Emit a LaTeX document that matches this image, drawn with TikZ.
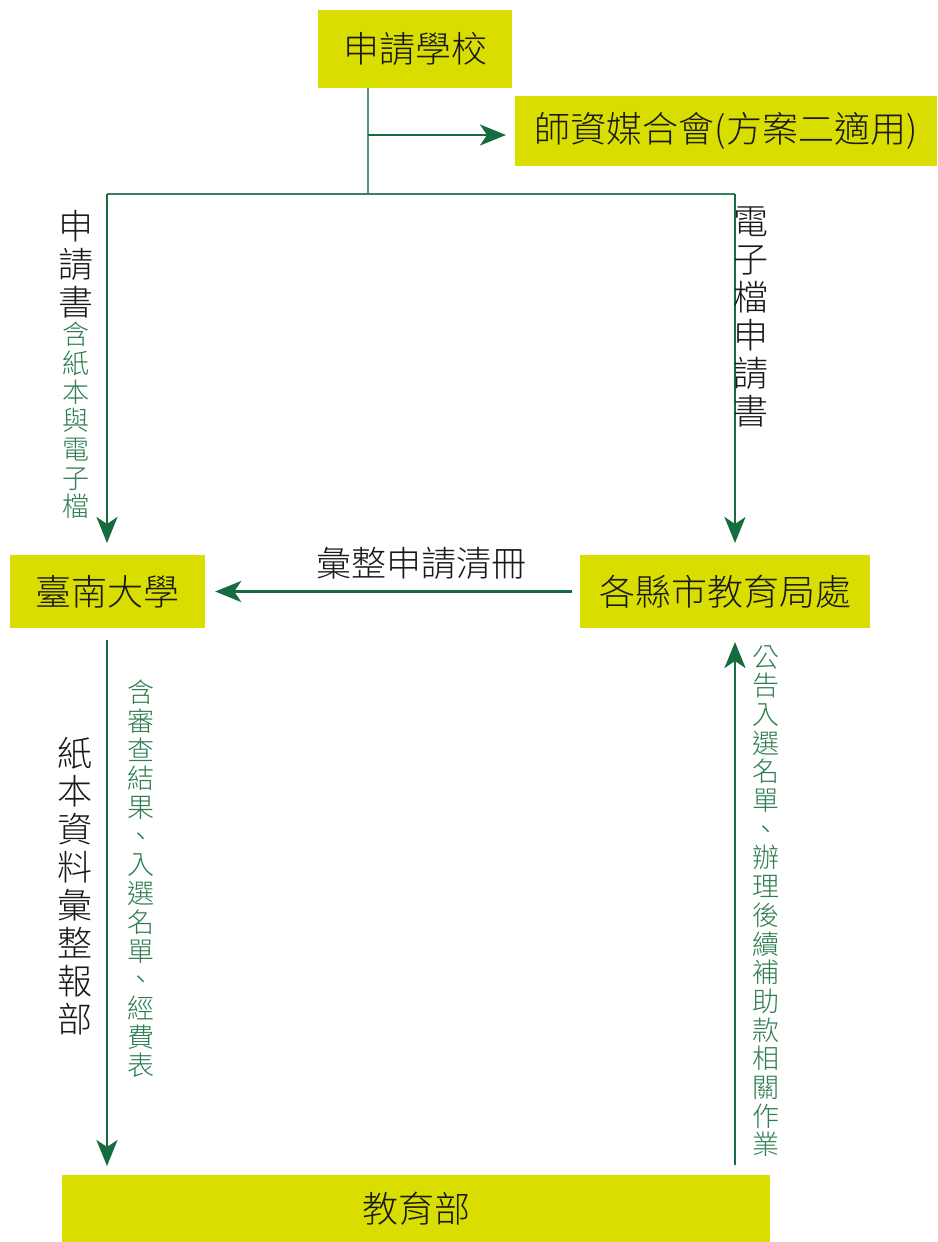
\documentclass[tikz,border=0pt]{standalone}
\usepackage{fontspec}
\setmainfont{Noto Sans CJK TC Light}
\usetikzlibrary{arrows.meta}
\definecolor{boxy}{RGB}{217,222,0}
\definecolor{arrg}{RGB}{22,108,62}
\definecolor{txtg}{RGB}{45,125,80}
\definecolor{thing}{RGB}{80,155,115}
\tikzset{
  x=1pt,y=-1pt,
  ybox/.style={fill=boxy,draw=none,inner sep=0pt,font=\fontsize{36}{40}\selectfont,text=black!90},
  flow/.style={draw=arrg,line width=2.7pt,-{Stealth[length=26pt,width=21pt,inset=7pt]},shorten >=9pt},
  flowline/.style={draw=arrg!85,line width=2.4pt},
  thinline/.style={draw=thing,line width=1.2pt},
  bigv/.style={align=center,font=\fontsize{35}{38}\selectfont,text=black!90,inner sep=0pt},
  smallv/.style={align=center,font=\fontsize{27}{28.7}\selectfont,text=txtg,inner sep=0pt},
}
\begin{document}
\begin{tikzpicture}
\useasboundingbox[fill=white] (0,0) rectangle (937,1242);
% boxes
\node[ybox,minimum width=194pt,minimum height=78pt] (school) at (415,49) {申請學校};
\node[ybox,minimum width=422pt,minimum height=70pt,anchor=west] (match) at (515,131) {師資媒合會(方案二適用)};
\node[ybox,minimum width=195pt,minimum height=73pt] (tnu) at (107.5,591.5) {臺南大學};
\node[ybox,minimum width=290pt,minimum height=73pt] (city) at (725,591.5) {各縣市教育局處};
\node[ybox,minimum width=708pt,minimum height=67pt] (moe) at (416,1208.5) {教育部};
% junction coordinates
\coordinate (j1) at (368,88);
\coordinate (jarrow) at (368,135);
\coordinate (jh) at (368,194);
\coordinate (lc) at (107,194);
\coordinate (rc) at (735,194);
\coordinate (ltip) at (107,557);
\coordinate (rtip) at (735,557);
% connectors
\draw[thinline] (j1) -- (jh);
\draw[flow] (jarrow) -- (jarrow -| match.west);
\draw[flowline] (lc) -- (rc);
\draw[flow,shorten >=14pt] (lc) -- (ltip);
\draw[flow,shorten >=14pt] (rc) -- (rtip);
\draw[flow,shorten >=10pt] ([xshift=-8pt]city.west) -- (tnu.east);
\coordinate (l2s) at (107,640);
\coordinate (l2e) at (107,1175);
\coordinate (r2s) at (735,1165);
\coordinate (r2e) at (735,628);
\draw[flow] (l2s) -- (l2e);
\draw[flow,shorten >=14pt] (r2s) -- (r2e);
% labels
\node[bigv,anchor=north] (t1) at (76,210) {申\\請\\書};
\node[smallv,anchor=north] (t2) at (76,322) {含\\紙\\本\\與\\電\\子\\檔};
\node[bigv,anchor=north] (t3) at (751,207) {電\\子\\檔\\申\\請\\書};
\node[font=\fontsize{35}{38}\selectfont,text=black!90,inner sep=0pt] (t4) at (421,563) {彙整申請清冊};
\node[bigv,anchor=north] (t5) at (75,737) {紙\\本\\資\\料\\彙\\整\\報\\部};
\node[smallv,anchor=north] (t6) at (141,680) {含\\審\\查\\結\\果\\、\\入\\選\\名\\單\\、\\經\\費\\表};
\node[smallv,anchor=north] (t7) at (766,645) {公\\告\\入\\選\\名\\單\\、\\辦\\理\\後\\續\\補\\助\\款\\相\\關\\作\\業};
\end{tikzpicture}
\end{document}
